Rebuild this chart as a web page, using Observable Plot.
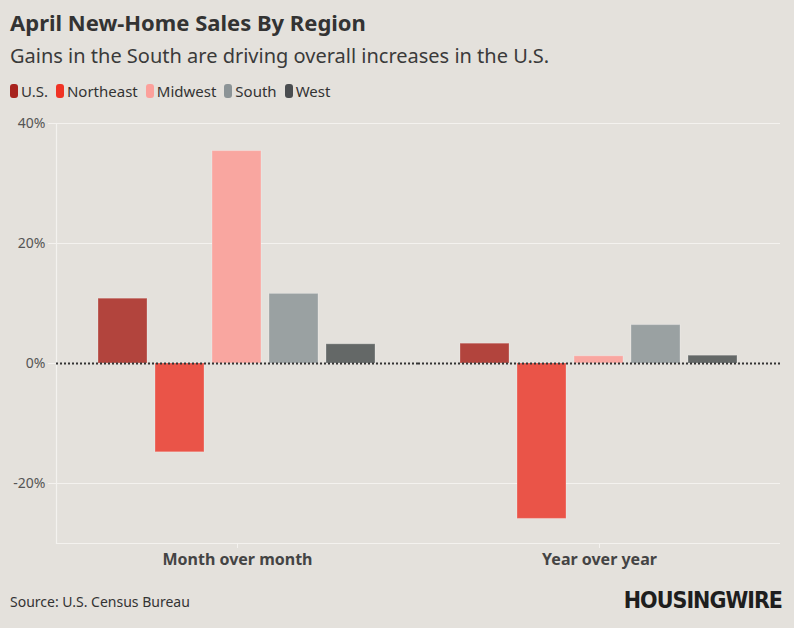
<!DOCTYPE html>
<html><head><meta charset="utf-8">
<script src="https://cdn.jsdelivr.net/npm/d3@7"></script>
<script src="https://cdn.jsdelivr.net/npm/@observablehq/plot@0.6"></script>
<style>
html,body{margin:0;padding:0}
body{background:#e4e1dc;font-family:"Noto Sans",sans-serif;width:794px;height:628px;overflow:hidden;position:relative}
#title{position:absolute;left:10px;top:7px;font-size:22px;font-weight:700;color:#333;white-space:nowrap}
#subtitle{position:absolute;left:10px;top:42px;font-size:20px;color:#3a3a3a;white-space:nowrap}
#legend{position:absolute;left:10px;top:81px;font-size:15px;color:#333;display:flex;align-items:center;white-space:nowrap}
#legend .item{display:flex;align-items:center;margin-right:8px}
#legend .sw{width:8px;height:14px;border-radius:3px;margin-right:3px}
#chart{position:absolute;left:0;top:110px}
#source{position:absolute;left:10px;top:592px;font-size:14px;color:#333;white-space:nowrap}
#logo{position:absolute;right:12px;top:587px;font-size:23px;font-weight:900;color:#1e1e1e;font-family:"DejaVu Sans Condensed","DejaVu Sans",sans-serif;font-stretch:condensed;letter-spacing:-1px;white-space:nowrap}
</style></head>
<body>
<div id="title">April New-Home Sales By Region</div>
<div id="subtitle">Gains in the South are driving overall increases in the U.S.</div>
<div id="legend"></div>
<div id="chart"></div>
<div id="source">Source: U.S. Census Bureau</div>
<div id="logo">HOUSINGWIRE</div>
<script>
const periods = ["Month over month", "Year over year"];
const regions = ["U.S.", "Northeast", "Midwest", "South", "West"];
const momValues = [10.8, -14.8, 35.4, 11.6, 3.2];
const yoyValues = [3.3, -25.9, 1.2, 6.4, 1.3];
const barColors = ["#b2443d", "#ea5448", "#f9a6a0", "#9aa1a2", "#646867"];
const legendColors = ["#a8231e", "#f03325", "#fca09b", "#8c9497", "#4a4d50"];
const yTicks = [40, 20, 0, -20];
const yDomain = [-30, 40];

const data = [];
regions.forEach((r, i) => {
  data.push({period: periods[0], region: r, value: momValues[i]});
  data.push({period: periods[1], region: r, value: yoyValues[i]});
});

const legend = document.getElementById("legend");
regions.forEach((r, i) => {
  const it = document.createElement("div");
  it.className = "item";
  it.innerHTML = `<span class="sw" style="background:${legendColors[i]}"></span><span>${r}</span>`;
  legend.appendChild(it);
});

const lineColor = "#f4f2ef";
const chart = Plot.plot({
  width: 794,
  height: 468,
  marginTop: 13,
  marginLeft: 55,
  marginRight: 14,
  marginBottom: 35,
  style: {background: "transparent", fontFamily: "'Noto Sans', sans-serif", overflow: "visible"},
  fx: {domain: periods, padding: 0, label: null},
  x: {domain: regions, paddingInner: 0.14, paddingOuter: 0.7, axis: null},
  y: {domain: yDomain, label: null},
  color: {domain: regions, range: barColors},
  marks: [
    Plot.gridY(yTicks.filter(d => d !== 0), {stroke: lineColor, strokeOpacity: 1, strokeWidth: 1.2}),
    Plot.ruleY([yDomain[0]], {stroke: lineColor, strokeWidth: 1.2}),
    Plot.frame({anchor: "left", facetAnchor: "left", stroke: lineColor, strokeWidth: 1.2}),
    Plot.axisY({ticks: yTicks, tickFormat: d => d + "%", tickSize: 8, tickPadding: 3, stroke: lineColor, fill: "#555", fontSize: 14, label: null}),
    Plot.axisFx({anchor: "bottom", tickSize: 5, tickPadding: 5, stroke: lineColor, fill: "#444", fontSize: 16, fontWeight: 700, label: null}),
    Plot.barY(data, {fx: "period", x: "region", y: "value", fill: "region", stroke: "#ffffff", strokeOpacity: 0.25, strokeWidth: 1}),
    Plot.ruleY([0], {stroke: "#333", strokeWidth: 2, strokeDasharray: "2,2"})
  ]
});
document.getElementById("chart").appendChild(chart);
</script>
</body></html>
